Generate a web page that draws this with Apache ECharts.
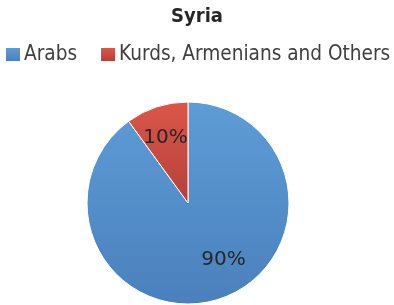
<!DOCTYPE html>
<html><head><meta charset="utf-8">
<script src="https://cdn.jsdelivr.net/npm/echarts@6/dist/echarts.min.js"></script>
<style>html,body{margin:0;padding:0;background:#fff}#c{width:394px;height:305px}</style>
</head><body><div id="c"></div>
<script>
var title = 'Syria';
var categories = ['Arabs', 'Kurds, Armenians and Others'];
var values = [90, 10];
var labelOffsets = [[19, 6], [-6, -14]];
var gradients = [['#5e9cd6', '#4a80bd'], ['#dc5649', '#b4413a']];
var font = '"DejaVu Sans Condensed", "DejaVu Sans"';
var chart = echarts.init(document.getElementById('c'), null, {renderer: 'canvas'});
chart.setOption({
  animation: false,
  title: {text: title, left: 'center', top: 2, textStyle: {fontFamily: font, fontSize: 20, fontWeight: 'bold', color: '#262626'}},
  legend: {
    left: 6, top: 44, width: 394, padding: 0, itemWidth: 14, itemHeight: 13, itemGap: 24, itemStyle: {borderWidth: 0}, icon: 'rect',
    textStyle: {fontFamily: font, fontSize: 20.6, color: '#404040', padding: [0, 0, 0, -1]},
    data: categories
  },
  series: [{
    type: 'pie', center: [188, 203], radius: 101, startAngle: 90, clockwise: true,
    itemStyle: {borderColor: '#fff', borderWidth: 1},
    label: {position: 'inside', formatter: '{d}%', fontFamily: 'DejaVu Sans', fontSize: 20, color: '#262626'},
    labelLine: {show: false},
    data: categories.map(function (c, i) {
      return {
        name: c, value: values[i],
        label: {offset: labelOffsets[i]},
        itemStyle: {color: new echarts.graphic.LinearGradient(0, 0, 0, 1, [{offset: 0, color: gradients[i][0]}, {offset: 1, color: gradients[i][1]}])}
      };
    })
  }]
});
</script></body></html>
